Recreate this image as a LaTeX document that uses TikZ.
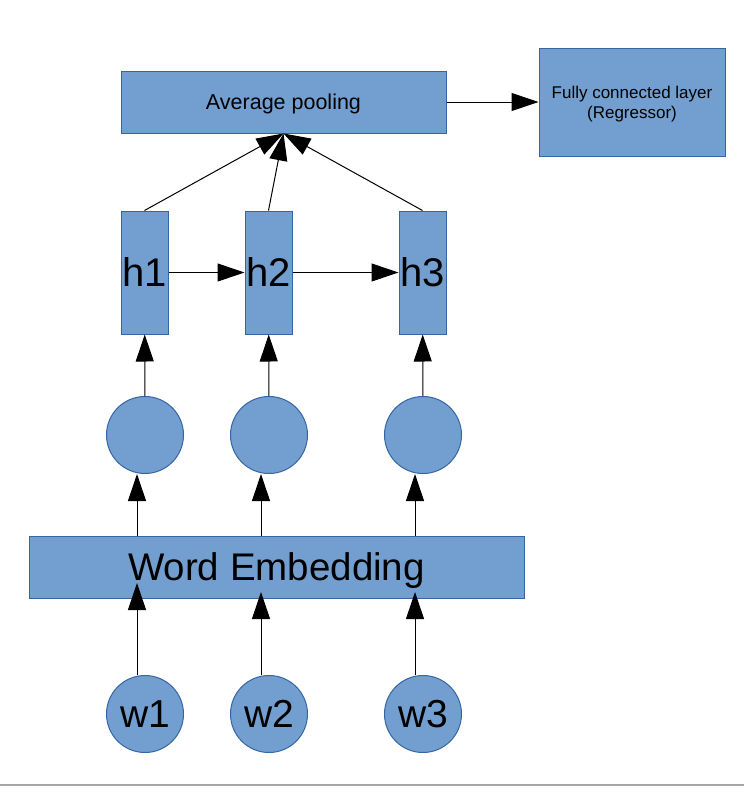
\documentclass[tikz,border=0pt]{standalone}
\usepackage{fontspec}
\setmainfont{Liberation Sans}
\usetikzlibrary{arrows.meta}
\definecolor{boxfill}{HTML}{729FCF}
\definecolor{boxline}{HTML}{3465A4}

\begin{document}
\begin{tikzpicture}[x=1pt, y=-1pt,
  block/.style={draw=boxline, fill=boxfill, line width=1pt, inner sep=0pt, text depth=0pt},
  unit/.style={circle, draw=boxline, fill=boxfill, line width=1pt, inner sep=0pt, minimum size=77pt},
  arr/.style={-{Triangle[length=27pt,width=18pt]}, line width=1pt}
]
\useasboundingbox (0,0) rectangle (744,788);

% Draw the top boxes
\node[block, minimum width=325pt, minimum height=62pt, font=\fontsize{21.5}{24}\selectfont] (avg) at (283.5,102) {Average pooling};
\node[block, minimum width=186pt, minimum height=108pt, align=center, font=\fontsize{17}{20}\selectfont] (fc) at (632,102) {Fully connected layer\\(Regressor)};
\draw[arr] (avg) -- (fc);

% Embedding layer
\node[block, minimum width=495pt, minimum height=62pt, font=\fontsize{38.5}{40}\selectfont] (emb) at (276.5,567) {Word Embedding};

% Draw the three columns
\foreach \i/\x/\t in {1/145/583, 2/269/592, 3/423/592} {
  \node[block, minimum width=47pt, minimum height=123pt, font=\fontsize{40}{44}\selectfont] (h\i) at (\x-0.5,272.5) {h\i};
  \node[unit] (c\i) at (\x,435) {};
  \node[unit, font=\fontsize{39}{42}\selectfont] (w\i) at (\x,714) {w\i};
  \coordinate (top\i) at (\x-8,536);
  \coordinate (in\i) at (\x-8,\t);
  \draw[arr] (c\i) -- (h\i);
  \draw[arr] (top\i) -- (top\i |- c\i.south);
  \draw[arr] (w\i.north -| in\i) -- (in\i);
  \draw[arr] (h\i.north) -- (avg.south);
}

% Recurrent links
\draw[arr] (h1) -- (h2);
\draw[arr] (h2) -- (h3);

% Page edge
\draw[gray!70, line width=2pt] (0,784.5) -- (744,784.5);

\end{tikzpicture}
\end{document}
